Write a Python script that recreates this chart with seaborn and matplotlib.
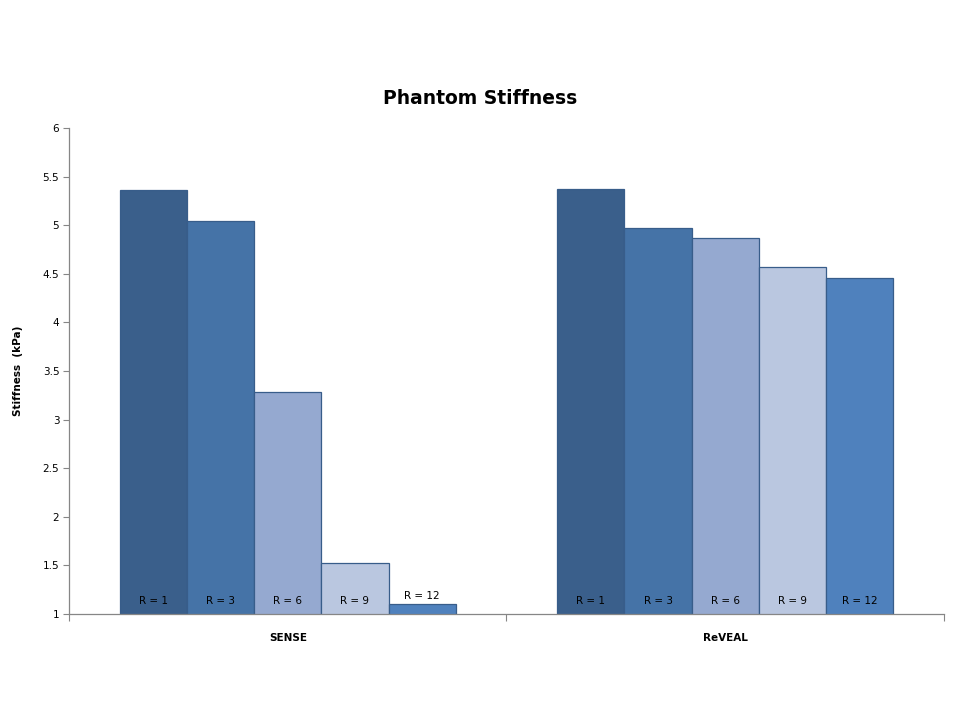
import matplotlib
matplotlib.use('Agg')
import matplotlib.pyplot as plt
import pandas as pd
import seaborn as sns

sns.set_style('white')
plt.rcParams['font.family'] = ['DejaVu Sans']
plt.rcParams['text.color'] = 'black'
plt.rcParams['axes.labelcolor'] = 'black'
plt.rcParams['xtick.labelcolor'] = 'black'
plt.rcParams['ytick.labelcolor'] = 'black'

# Data
methods = ['SENSE', 'ReVEAL']
factors = ['R = 1', 'R = 3', 'R = 6', 'R = 9', 'R = 12']
sense_vals = [5.36, 5.04, 3.28, 1.53, 1.10]
reveal_vals = [5.37, 4.97, 4.87, 4.57, 4.46]
bar_colors = ['#3A5F8B', '#4573A7', '#95A9D0', '#BAC7E0', '#4F81BD']

df = pd.DataFrame({
    'method': ['SENSE'] * 5 + ['ReVEAL'] * 5,
    'factor': factors * 2,
    'stiffness': sense_vals + reveal_vals,
})

fig = plt.figure(figsize=(9.6, 7.2), dpi=100)
ax = fig.add_axes([0.0719, 0.1472, 0.9114, 0.675])

sns.barplot(data=df, x='method', y='stiffness', hue='factor',
            order=methods, hue_order=factors, palette=bar_colors,
            saturation=1, width=0.768, gap=0, edgecolor='#385D8A',
            linewidth=0.9, errorbar=None, legend=False, ax=ax)

# bar labels near the base (above the bar if it is too short)
for cont, lab in zip(ax.containers, factors):
    for rect in cont:
        h = rect.get_height() + rect.get_y()
        ypos = 1.13 if h > 1.3 else h + 0.09
        ax.text(rect.get_x() + rect.get_width() / 2, ypos, lab,
                ha='center', va='center', fontsize=7.5, color='black')

ax.set_ylim(1, 6)
ax.set_xlim(-0.5, 1.5)
ax.set_yticks([1, 1.5, 2, 2.5, 3, 3.5, 4, 4.5, 5, 5.5, 6])
ax.set_yticklabels(['1', '1.5', '2', '2.5', '3', '3.5', '4', '4.5', '5', '5.5', '6'])
ax.tick_params(axis='y', direction='out', length=4, width=0.8, color='#868686',
               labelsize=7.5, pad=3, left=True)
ax.set_xticks([-0.5, 0.5, 1.5], minor=True)
ax.tick_params(axis='x', which='minor', direction='out', length=5, width=0.8,
               color='#868686', bottom=True)
ax.tick_params(axis='x', which='major', length=0, labelsize=7.5, pad=14)
for t in ax.get_xticklabels():
    t.set_fontweight('bold')

for side in ['top', 'right']:
    ax.spines[side].set_visible(False)
for side in ['left', 'bottom']:
    ax.spines[side].set_color('#868686')
    ax.spines[side].set_linewidth(0.9)

ax.set_xlabel('')
ax.set_ylabel('Stiffness  (kPa)', fontsize=7.5, fontweight='bold', labelpad=14)
fig.text(0.5, 0.863, 'Phantom Stiffness', ha='center', va='center',
         fontsize=13.5, fontweight='bold', color='black')

plt.savefig('out.png', dpi=100)
plt.close()
